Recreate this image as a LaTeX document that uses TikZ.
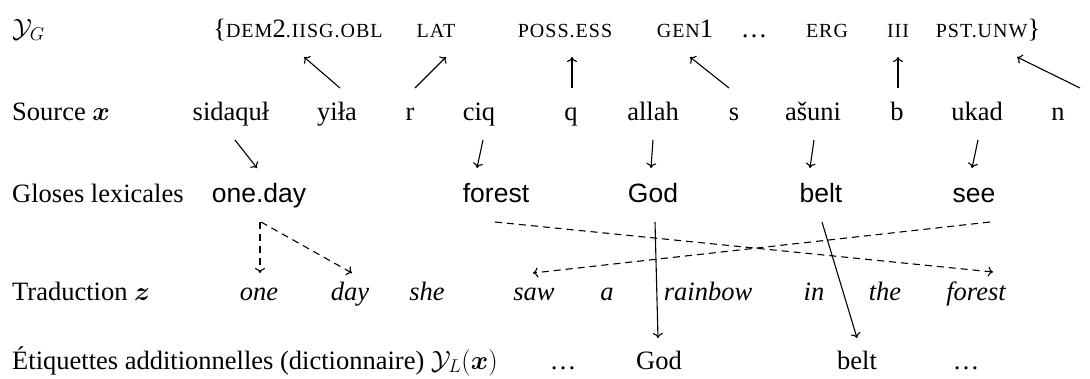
\RequirePackage{fix-cm}
\documentclass[tikz,border=0pt]{standalone}
\usepackage{amsmath}
\usepackage{fontspec}
\setmainfont{Liberation Serif}
\newfontfamily\glfont{Liberation Sans}
\newfontfamily\scfont[LetterSpace=5]{Liberation Serif}
\usetikzlibrary{arrows.meta}
\newcommand\sz{\fontsize{26.5}{31}\selectfont}
\newcommand\smc[1]{{\fontsize{20}{22}\selectfont\scfont #1}}
\tikzset{
  lab/.style={anchor=base west, inner sep=0pt, font=\sz},
  w/.style={anchor=base, inner sep=0pt, font=\sz},
  gl/.style={anchor=base, inner sep=0pt, font=\fontsize{26.5}{31}\selectfont\glfont},
  tr/.style={anchor=base, inner sep=0pt, font=\sz\itshape},
  arr/.style={-{To[length=5pt,width=10pt]}, line width=1.1pt},
  darr/.style={-{To[length=5pt,width=10pt]}, line width=1.1pt, dash pattern=on 7pt off 5pt},
  sline/.style={-{To[length=5pt,width=10pt]}, line width=1.1pt},
}
\begin{document}
\begin{tikzpicture}[x=1pt,y=-1pt]
\useasboundingbox (0,0) rectangle (1090,378);
% row labels
\node[lab] (lyg) at (12,37) {$\mathcal{Y}_G$};
\node[lab] (lsrc) at (12,120) {Source $\boldsymbol{x}$};
\node[lab] (lgl) at (12,202) {Gloses lexicales};
\node[lab] (ltr) at (12,300) {Traduction $\boldsymbol{z}$};
\node[lab] (ldict) at (12,369) {Étiquettes additionnelles (dictionnaire) $\mathcal{Y}_L(\boldsymbol{x})$};
% grammatical tags
\node[w] (t1) at (298,37) {\{\smc{DEM}2\smc{.IISG.OBL}};
\node[w] (t2) at (436,37) {\smc{LAT}};
\node[w] (t3) at (565,37) {\smc{POSS.ESS}};
\node[w] (t4) at (685,37) {\smc{GEN}1};
\node[w] (t5) at (754,37) {…};
\node[w] (t6) at (827,37) {\smc{ERG}};
\node[w] (t7) at (898,37) {\smc{III}};
\node[w] (t8) at (988,37) {\smc{PST.UNW}\}};
% source
\node[w] (s1) at (231,120) {sidaquł};
\node[w] (s2) at (337,120) {yiła};
\node[w] (s3) at (410,120) {r};
\node[w] (s4) at (479,120) {ciq};
\node[w] (s5) at (571,120) {q};
\node[w] (s6) at (653,120) {allah};
\node[w] (s7) at (734,120) {s};
\node[w] (s8) at (813,120) {ašuni};
\node[w] (s9) at (897,120) {b};
\node[w] (s10) at (977,120) {ukad};
\node[w] (s11) at (1058,120) {n};
% glosses
\node[gl] (g1) at (259,202) {one.day};
\node[gl] (g2) at (496,202) {forest};
\node[gl] (g3) at (653,202) {God};
\node[gl] (g4) at (821,202) {belt};
\node[gl] (g5) at (974,202) {see};
% translation
\node[tr] (z1) at (259,300) {one};
\node[tr] (z2) at (350,300) {day};
\node[tr] (z3) at (427,300) {she};
\node[tr] (z4) at (534,300) {saw};
\node[tr] (z5) at (607,300) {a};
\node[tr] (z6) at (708,300) {rainbow};
\node[tr] (z7) at (814,300) {in};
\node[tr] (z8) at (885,300) {the};
\node[tr] (z9) at (976,300) {forest};
% dictionary
\node[w] (d1) at (563,369) {…};
\node[w] (d2) at (659,369) {God};
\node[w] (d3) at (857,369) {belt};
\node[w] (d4) at (966,369) {…};
% source -> tags
\draw[arr] ([shift={(3,-32)}]s2.base) -- ([shift={(6,20)}]t1.base);
\draw[arr] ([shift={(5,-32)}]s3.base) -- ([shift={(10,20)}]t2.base);
\draw[arr] ([shift={(1,-32)}]s5.base) -- ([shift={(7,20)}]t3.base);
\draw[arr] ([shift={(-5,-32)}]s7.base) -- ([shift={(5,20)}]t4.base);
\draw[arr] ([shift={(1,-32)}]s9.base) -- ([shift={(0,20)}]t7.base);
\draw[arr] ([shift={(22,-32)}]s11.base) -- ([shift={(29,20)}]t8.base);
% source -> glosses
\draw[arr] ([shift={(4,20)}]s1.base) -- ([shift={(-2,-34)}]g1.base);
\draw[arr] ([shift={(4,20)}]s4.base) -- ([shift={(-19,-34)}]g2.base);
\draw[arr] ([shift={(0,20)}]s6.base) -- ([shift={(-2,-34)}]g3.base);
\draw[arr] ([shift={(1,20)}]s8.base) -- ([shift={(-11,-34)}]g4.base);
\draw[arr] ([shift={(1,20)}]s10.base) -- ([shift={(-2,-34)}]g5.base);
% glosses -> translation
\draw[darr] ([shift={(1,20)}]g1.base) -- ([shift={(1,-27)}]z1.base);
\draw[darr] ([shift={(2,20)}]g1.base) -- ([shift={(2,-27)}]z2.base);
\draw[darr] ([shift={(-1,20)}]g2.base) -- ([shift={(17,-28)}]z9.base);
\draw[darr] ([shift={(16,20)}]g5.base) -- ([shift={(-1,-27)}]z4.base);
% glosses -> dictionary
\draw[sline] ([shift={(2,20)}]g3.base) -- ([shift={(-1,-31)}]d2.base);
\draw[sline] ([shift={(1,20)}]g4.base) -- ([shift={(0,-31)}]d3.base);
\end{tikzpicture}
\end{document}
